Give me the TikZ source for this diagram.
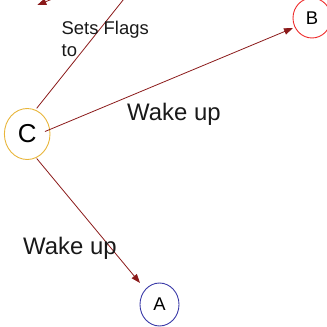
\documentclass[tikz,border=0pt]{standalone}
\usepackage{fontspec}
\setmainfont{Liberation Sans}
\usetikzlibrary{shapes.geometric,arrows.meta}
\definecolor{wire}{HTML}{8B1A1A}
\definecolor{cring}{HTML}{E8B53A}
\definecolor{bring}{HTML}{EE2B2B}
\definecolor{aring}{HTML}{3A3AA8}
\tikzset{
  state/.style={ellipse, draw, line width=0.9bp, inner sep=0pt},
  link/.style={draw=wire, line width=0.8bp,
    -{Triangle[length=9bp,width=6.5bp]}},
  plainlink/.style={draw=wire, line width=0.8bp},
  lbl/.style={inner sep=0pt, anchor=base west, text=black!90}
}
\begin{document}
\begin{tikzpicture}[x=1bp,y=-1bp]
\useasboundingbox (0,0) rectangle (327,327);
\clip (0,0) rectangle (327,327);

% states
\node[state, draw=cring, minimum width=45.6bp, minimum height=51bp,
      font=\fontsize{26}{30}\selectfont] (C) at (27.2,134) {C};
\node[state, draw=bring, minimum width=38bp, minimum height=40bp,
      font=\fontsize{18.5}{22}\selectfont] (B) at (312,18) {B};
\node[state, draw=aring, minimum width=39bp, minimum height=43bp,
      font=\fontsize{18.5}{22}\selectfont] (A) at (159.5,304.5) {A};

% connector end points
\coordinate (cbS) at (45,131.5);
\coordinate (cbE) at (293,28);
\coordinate (caS) at (36.7,158.5);
\coordinate (caE) at (140,283);
\coordinate (cuS) at (36.7,108.3);
\coordinate (cuE) at (125.5,-3);
\coordinate (tS) at (80,-12);
\coordinate (tE) at (37.3,5);

% connectors
\draw[link] (cbS) -- (cbE);
\draw[link] (caS) -- (caE);
\draw[plainlink] (cuS) -- (cuE);
\draw[link] (tS) -- (tE);

% labels
\node[lbl, font=\fontsize{18.5}{22}\selectfont] (flags) at (61.5,34.3) {Sets Flags};
\node[lbl, font=\fontsize{18.5}{22}\selectfont] (flagsto) at (61.5,56.7) {to};
\node[lbl, font=\fontsize{24}{28}\selectfont] (wake1) at (127,120) {Wake up};
\node[lbl, font=\fontsize{24}{28}\selectfont] (wake2) at (23,254) {Wake up};
\end{tikzpicture}
\end{document}
